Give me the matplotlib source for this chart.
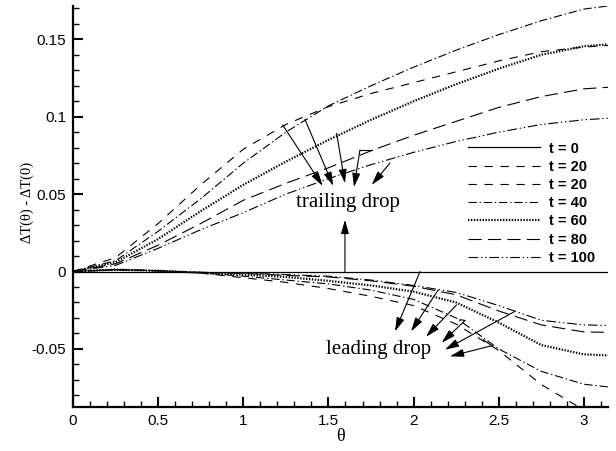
import numpy as np
import matplotlib
matplotlib.use("Agg")
import matplotlib.pyplot as plt
from matplotlib.ticker import FixedLocator, MultipleLocator, FixedFormatter

# angular positions along the drop surface
theta = [0.0, 0.25, 0.5, 0.75, 1.0, 1.25, 1.5, 1.75, 2.0, 2.25, 2.5, 2.75, 3.0, np.pi]

# trailing drop (positive branch)
trail_t20 = [0, 0.009, 0.031, 0.056, 0.079, 0.095, 0.1065, 0.115, 0.122, 0.129, 0.136, 0.142, 0.145, 0.146]
trail_t40 = [0, 0.007, 0.026, 0.047, 0.070, 0.090, 0.107, 0.120, 0.132, 0.143, 0.153, 0.162, 0.1695, 0.1715]
trail_t60 = [0, 0.006, 0.021, 0.039, 0.056, 0.071, 0.085, 0.098, 0.110, 0.121, 0.131, 0.140, 0.1455, 0.1467]
trail_t80 = [0, 0.005, 0.017, 0.031, 0.046, 0.057, 0.067, 0.078, 0.088, 0.097, 0.106, 0.113, 0.118, 0.119]
trail_t100 = [0, 0.004, 0.015, 0.027, 0.038, 0.050, 0.060, 0.069, 0.077, 0.084, 0.090, 0.095, 0.098, 0.099]

# leading drop (negative branch)
lead_t20 = [0, 0.0012, 0.0005, -0.001, -0.004, -0.007, -0.011, -0.016, -0.022, -0.034, -0.051, -0.073, -0.0895, -0.097]
lead_t40 = [0, 0.0012, 0.0005, -0.0009, -0.003, -0.0055, -0.008, -0.012, -0.018, -0.030, -0.050, -0.0645, -0.0728, -0.0745]
lead_t60 = [0, 0.0012, 0.0005, -0.0008, -0.002, -0.0035, -0.006, -0.009, -0.013, -0.020, -0.033, -0.0475, -0.0535, -0.0542]
lead_t80 = [0, 0.0012, 0.0005, -0.0006, -0.0012, -0.0025, -0.0035, -0.006, -0.0095, -0.015, -0.0255, -0.0345, -0.039, -0.0393]
lead_t100 = [0, 0.0012, 0.0005, -0.0005, -0.001, -0.002, -0.003, -0.0055, -0.009, -0.0135, -0.022, -0.0315, -0.0345, -0.0348]

t0_line = [0.0] * len(theta)

legend_labels = ["t = 0", "t = 20", "t = 20", "t = 40", "t = 60", "t = 80", "t = 100"]

xticks = [0, 0.5, 1, 1.5, 2, 2.5, 3]
xtick_labels = ["0", "0.5", "1", "1.5", "2", "2.5", "3"]
yticks = [-0.05, 0, 0.05, 0.1, 0.15]
ytick_labels = ["-0.05", "0", "0.05", "0.1", "0.15"]

plt.rcParams["lines.scale_dashes"] = False
SANS = "Liberation Sans"
SERIF = "Liberation Serif"

styles = {
    "solid": dict(linestyle="-", lw=0.9),
    "dash": dict(linestyle=(0, (6, 5.5)), lw=0.8),
    "dashdot": dict(linestyle=(0, (6, 2, 1, 2)), lw=0.8),
    "dot": dict(linestyle=(0, (1, 1.1)), lw=1.6),
    "longdash": dict(linestyle=(0, (9.5, 4.5)), lw=0.8),
    "dashdotdot": dict(linestyle=(0, (7, 2, 1, 2, 1, 2)), lw=0.8),
}

fig = plt.figure(figsize=(6.16, 4.51), dpi=100)
ax = fig.add_axes([73 / 616, 44 / 451, 535 / 616, 401 / 451])

h0, = ax.plot(theta, t0_line, color="k", **styles["solid"])
h20a, = ax.plot(theta, trail_t20, color="k", **styles["dash"])
h40, = ax.plot(theta, trail_t40, color="k", **styles["dashdot"])
h60, = ax.plot(theta, trail_t60, color="k", **styles["dot"])
h80, = ax.plot(theta, trail_t80, color="k", **styles["longdash"])
h100, = ax.plot(theta, trail_t100, color="k", **styles["dashdotdot"])
h20b, = ax.plot(theta, lead_t20, color="k", **styles["dash"])
ax.plot(theta, lead_t40, color="k", **styles["dashdot"])
ax.plot(theta, lead_t60, color="k", **styles["dot"])
ax.plot(theta, lead_t80, color="k", **styles["longdash"])
ax.plot(theta, lead_t100, color="k", **styles["dashdotdot"])

ax.set_xlim(0, np.pi)
ax.set_ylim(-0.0875, 0.1715)

ax.xaxis.set_major_locator(FixedLocator(xticks))
ax.xaxis.set_major_formatter(FixedFormatter(xtick_labels))
ax.xaxis.set_minor_locator(MultipleLocator(0.1))
ax.yaxis.set_major_locator(FixedLocator(yticks))
ax.yaxis.set_major_formatter(FixedFormatter(ytick_labels))
ax.yaxis.set_minor_locator(MultipleLocator(0.01))

for s in ("top", "right"):
    ax.spines[s].set_visible(False)
for s in ("left", "bottom"):
    ax.spines[s].set_linewidth(1.6)

ax.tick_params(which="major", direction="in", length=7, width=1.5, pad=5,
               labelsize=11)
ax.tick_params(which="minor", direction="in", length=4, width=1.0)
for lab in ax.get_xticklabels() + ax.get_yticklabels():
    lab.set_family(SANS)

ax.set_xlabel("θ", family=SERIF, fontsize=13, labelpad=0)
ax.set_ylabel("ΔT(θ) - ΔT(0)", family=SERIF, fontsize=10.5)
ax.yaxis.set_label_coords(-0.073, 0.511)

leg = ax.legend([h0, h20a, h20b, h40, h60, h80, h100], legend_labels,
                loc="upper left", bbox_to_anchor=(0.739, 0.662),
                frameon=False, handlelength=4.9, handletextpad=0.6,
                labelspacing=0.29, borderpad=0, borderaxespad=0,
                prop=dict(family=SANS, weight="bold", size=10.5))

arrow_kw = dict(arrowstyle="-|>,head_length=0.7,head_width=0.2", color="k",
                lw=0.8, shrinkA=0, shrinkB=0, mutation_scale=12)


def arrow(tail, tip, knee=None):
    if knee is not None:
        ax.plot([knee[0], tail[0]], [knee[1], tail[1]], color="k", lw=0.8)
    ax.annotate("", xy=tip, xytext=tail, arrowprops=arrow_kw)


# trailing drop callouts
arrow((1.231, 0.0947), (1.466, 0.0553))
arrow((1.362, 0.0983), (1.528, 0.0553))
arrow((1.548, 0.0893), (1.597, 0.0570))
arrow((1.685, 0.0785), (1.650, 0.0545), knee=(1.754, 0.0785))
arrow((1.861, 0.0700), (1.754, 0.0560))
arrow((1.597, 0.0), (1.597, 0.0334))
ax.text(1.615, 0.0443, "trailing drop", family=SERIF, fontsize=15,
        ha="center", va="center")

# leading drop callouts
arrow((2.038, 0.0), (1.891, -0.0387))
arrow((2.145, -0.0118), (1.985, -0.0387))
arrow((2.253, -0.0215), (2.073, -0.0421))
arrow((2.302, -0.0316), (2.165, -0.0460), knee=(2.273, -0.0311))
arrow((2.590, -0.0260), (2.184, -0.0505))
arrow((2.459, -0.0479), (2.213, -0.0548), knee=(2.409, -0.0441))
ax.text(1.797, -0.0505, "leading drop", family=SERIF, fontsize=15,
        ha="center", va="center")

fig.savefig("out.png", dpi=100)
